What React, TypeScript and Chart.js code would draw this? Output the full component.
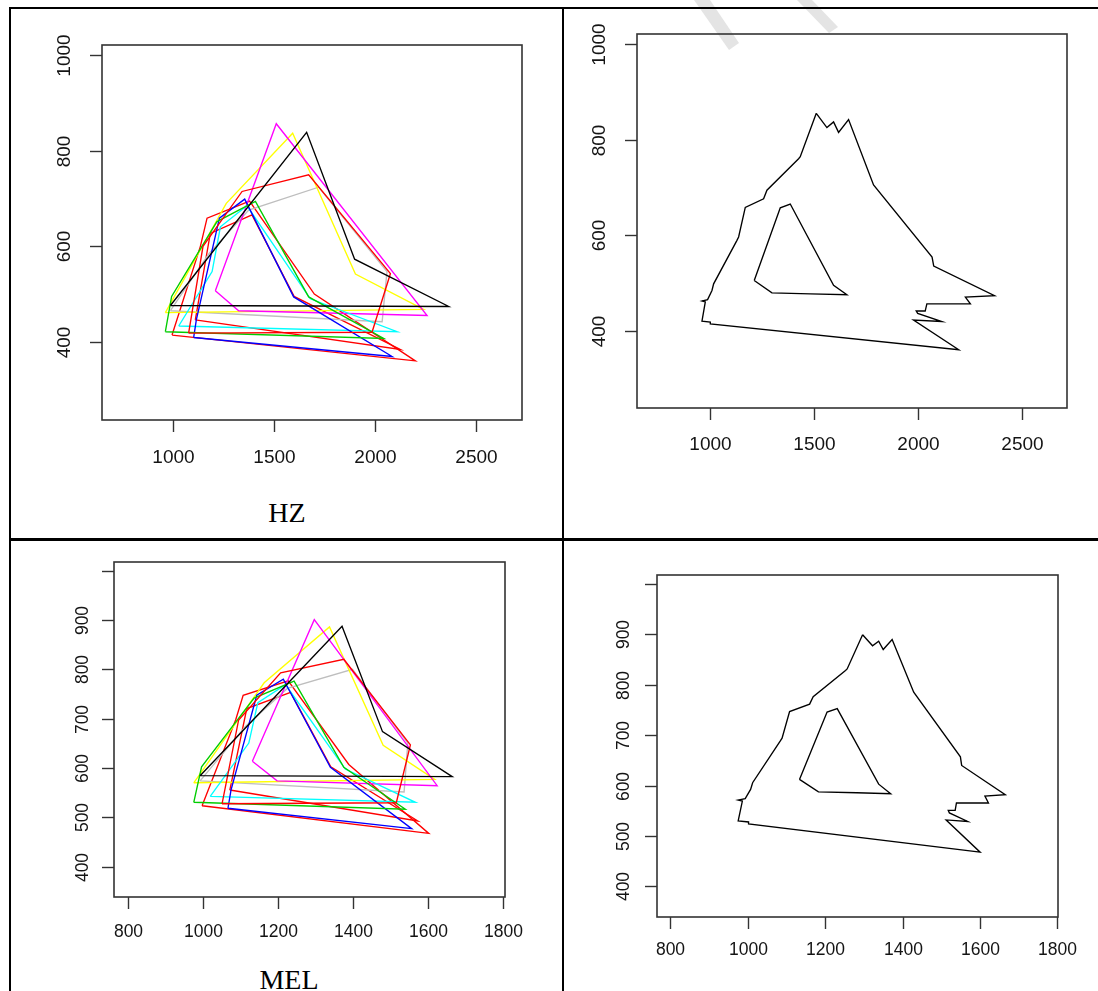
import React, { useEffect, useRef } from "react";
import { Chart, registerables } from "chart.js";

Chart.register(...registerables);

type Pt = [number, number];

// Vowel polygons per speaker, formant frequencies in Hz: [x, y]
const speakerA: Pt[] = [[989, 476], [1662, 839], [1899, 573], [2364, 474], [989, 476]];
const speakerB: Pt[] = [[1079, 418], [1150, 600], [1343, 715], [1672, 750], [2076, 543], [1985, 420], [1079, 418]];
const speakerC: Pt[] = [[964, 421], [995, 495], [1219, 652], [1409, 694], [1672, 494], [2043, 407], [964, 421]];
const speakerD: Pt[] = [[1104, 409], [1117, 446], [1231, 659], [1356, 699], [1598, 494], [2084, 369], [1104, 409]];
const speakerE: Pt[] = [[1030, 433], [1195, 547], [1236, 641], [1367, 685], [1680, 490], [2109, 421], [1030, 433]];
const speakerF: Pt[] = [[1211, 507], [1512, 857], [2257, 455], [1326, 465], [1211, 507]];
const speakerG: Pt[] = [[964, 461], [1265, 690], [1593, 837], [1903, 542], [2240, 468], [964, 461]];
const speakerH: Pt[] = [[989, 465], [1180, 585], [1376, 676], [1721, 724], [2059, 547], [2035, 442], [989, 465]];
const speakerI: Pt[] = [[997, 414], [1137, 600], [1170, 659], [1380, 695], [1700, 500], [2199, 360], [997, 414]];
const speakerJ: Pt[] = [[1112, 446], [1186, 627], [1392, 666], [1600, 495], [2125, 384], [1112, 446]];

const speakers: Pt[][] = [speakerA, speakerB, speakerC, speakerD, speakerE, speakerF, speakerG, speakerH, speakerI, speakerJ];
const speakerColors = ["#000000", "#FF0000", "#00CD00", "#0000FF", "#00FFFF", "#FF00FF", "#FFFF00", "#BEBEBE", "#FF0000", "#FF0000"];

// Outline of the area covered by all speakers (Hz)
const unionOutline: Pt[] = [
  [1512, 855], [1563, 825], [1595, 837], [1619, 815], [1667, 842], [1787, 705], [2068, 554], [2076, 535],
  [2368, 473], [2228, 470], [2252, 456], [2043, 456], [2035, 441], [1992, 441], [1999, 436], [2115, 419],
  [1979, 422], [2196, 360], [1003, 414], [1003, 418], [963, 420], [979, 460], [963, 462], [990, 465],
  [1011, 484], [1019, 498], [1131, 589], [1139, 596], [1171, 658], [1259, 676], [1275, 694], [1427, 760],
  [1435, 764], [1512, 855],
];
// Outline of the area shared by all speakers (Hz)
const commonOutline: Pt[] = [
  [1214, 505], [1299, 479], [1483, 477], [1659, 475], [1595, 495], [1387, 665], [1339, 657], [1214, 505],
];

// Axis ticks
const hzXTicks = [1000, 1500, 2000, 2500];
const hzYTicks = [400, 600, 800, 1000];
const melXTicks = [800, 1000, 1200, 1400, 1600, 1800];
const melYTicks = [400, 500, 600, 700, 800, 900, 1000];
const melYLabels = ["400", "500", "600", "700", "800", "900", ""];

// Mel scale: m = 2595 * log10(1 + f / 700)
const hzToMel = (f: number) => 2595 * Math.log10(1 + f / 700);
const toMel = (pts: Pt[]): Pt[] => pts.map(([x, y]) => [hzToMel(x), hzToMel(y)] as Pt);

type AxisOpts = {
  xTicks: number[];
  xLabels: string[];
  yTicks: number[];
  yLabels: string[];
  fontSize: number;
  tickLen: number;
  xGap: number;
  yGap: number;
};

// Base-graphics style frame: box, outward ticks, rotated y labels
const framePlugin = {
  id: "frame",
  afterDraw(chart: any, _args: any, o: AxisOpts) {
    const { ctx, chartArea: a, scales } = chart;
    ctx.save();
    ctx.strokeStyle = "#333333";
    ctx.lineWidth = 1.6;
    ctx.strokeRect(a.left, a.top, a.right - a.left, a.bottom - a.top);
    ctx.lineWidth = 1.4;
    ctx.fillStyle = "#141414";
    ctx.font = `${o.fontSize}px "Liberation Sans", Arial, sans-serif`;
    ctx.textAlign = "center";
    ctx.textBaseline = "middle";
    o.xTicks.forEach((v, i) => {
      const px = Math.round(scales.x.getPixelForValue(v)) + 0.5;
      ctx.beginPath();
      ctx.moveTo(px, a.bottom);
      ctx.lineTo(px, a.bottom + o.tickLen);
      ctx.stroke();
      if (o.xLabels[i]) ctx.fillText(o.xLabels[i], px, a.bottom + o.xGap);
    });
    o.yTicks.forEach((v, i) => {
      const py = Math.round(scales.y.getPixelForValue(v)) + 0.5;
      ctx.beginPath();
      ctx.moveTo(a.left, py);
      ctx.lineTo(a.left - o.tickLen, py);
      ctx.stroke();
      if (o.yLabels[i]) {
        ctx.save();
        ctx.translate(a.left - o.yGap, py);
        ctx.rotate(-Math.PI / 2);
        ctx.fillText(o.yLabels[i], 0, 0);
        ctx.restore();
      }
    });
    ctx.restore();
  },
};

type PanelProps = {
  box: [number, number, number, number]; // left, top, right, bottom
  xRange: [number, number];
  yRange: [number, number];
  series: Pt[][];
  colors: string[];
  axis: AxisOpts;
};

const PAD = { left: 60, top: 20, right: 30, bottom: 60 };

function Panel({ box, xRange, yRange, series, colors, axis }: PanelProps) {
  const ref = useRef<HTMLCanvasElement>(null);
  const [l, t, r, b] = box;
  const left = l - PAD.left;
  const top = t - PAD.top;
  const width = r - l + PAD.left + PAD.right;
  const height = b - t + PAD.top + PAD.bottom;

  useEffect(() => {
    if (!ref.current) return;
    const chart = new Chart(ref.current, {
      type: "scatter",
      data: {
        datasets: series.map((pts, i) => ({
          data: pts.map(([x, y]) => ({ x, y })),
          showLine: true,
          borderColor: colors[i],
          backgroundColor: colors[i],
          borderWidth: 1.35,
          pointRadius: 0,
          pointHoverRadius: 0,
          fill: false,
          tension: 0,
        })),
      },
      options: {
        animation: false,
        responsive: false,
        devicePixelRatio: 1,
        layout: { padding: PAD },
        scales: {
          x: { type: "linear", min: xRange[0], max: xRange[1], display: false },
          y: { type: "linear", min: yRange[0], max: yRange[1], display: false },
        },
        plugins: {
          legend: { display: false },
          tooltip: { enabled: false },
          frame: axis,
        } as any,
      },
      plugins: [framePlugin as any],
    });
    return () => chart.destroy();
  }, []);

  return (
    <canvas
      ref={ref}
      width={width}
      height={height}
      style={{ position: "absolute", left, top, width, height }}
    />
  );
}

const hzAxis = (fontSize: number, xGap: number, yGap: number): AxisOpts => ({
  xTicks: hzXTicks,
  xLabels: hzXTicks.map(String),
  yTicks: hzYTicks,
  yLabels: hzYTicks.map(String),
  fontSize,
  tickLen: 12,
  xGap,
  yGap,
});

const melAxis = (fontSize: number, xGap: number, yGap: number): AxisOpts => ({
  xTicks: melXTicks,
  xLabels: melXTicks.map(String),
  yTicks: melYTicks,
  yLabels: melYLabels,
  fontSize,
  tickLen: 12,
  xGap,
  yGap,
});

const line = (s: React.CSSProperties): React.CSSProperties => ({ position: "absolute", background: "#000", ...s });

export default function App() {
  const outlineColors = ["#000000", "#000000"];
  return (
    <div style={{ position: "absolute", left: 0, top: 0, width: 1098, height: 991, background: "#fff", overflow: "hidden" }}>
      {/* faint page watermark strokes */}
      <svg width={1098} height={60} style={{ position: "absolute", left: 0, top: 0 }}>
        <polygon points="694,0 710,0 739,43 729,50" fill="#e4e4e4" />
        <polygon points="797,0 812,0 838,27 829,33" fill="#e4e4e4" />
      </svg>

      {/* table rules */}
      <div style={line({ left: 9, top: 7, width: 1089, height: 2 })} />
      <div style={line({ left: 9, top: 538, width: 1089, height: 3 })} />
      <div style={line({ left: 9, top: 7, width: 2, height: 984 })} />
      <div style={line({ left: 562, top: 7, width: 2, height: 984 })} />

      <Panel
        box={[102, 45, 522, 420]}
        xRange={[651, 2726]}
        yRange={[236, 1022]}
        series={speakers}
        colors={speakerColors}
        axis={hzAxis(19, 38, 37)}
      />
      <Panel
        box={[637, 34, 1067, 408]}
        xRange={[651, 2716]}
        yRange={[238, 1021]}
        series={[unionOutline, commonOutline]}
        colors={outlineColors}
        axis={hzAxis(19, 37, 37)}
      />
      <Panel
        box={[114, 562, 505, 897]}
        xRange={[763.5, 1804.5]}
        yRange={[338.6, 1018]}
        series={speakers.map(toMel)}
        colors={speakerColors}
        axis={melAxis(17.5, 35, 31)}
      />
      <Panel
        box={[657, 575, 1058, 917]}
        xRange={[765.4, 1801.6]}
        yRange={[339, 1018]}
        series={[toMel(unionOutline), toMel(commonOutline)]}
        colors={outlineColors}
        axis={melAxis(17.5, 33, 33)}
      />

      <div style={{ position: "absolute", left: 187, width: 200, top: 495, textAlign: "center", font: '28px "Liberation Serif", serif', lineHeight: "36px" }}>HZ</div>
      <div style={{ position: "absolute", left: 189, width: 200, top: 962, textAlign: "center", font: '28px "Liberation Serif", serif', lineHeight: "36px" }}>MEL</div>
    </div>
  );
}
